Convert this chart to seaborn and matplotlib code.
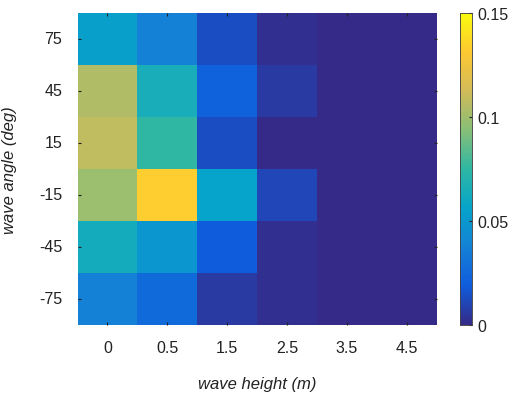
import numpy as np
import pandas as pd
import seaborn as sns
import matplotlib.pyplot as plt
from matplotlib.colors import LinearSegmentedColormap

# data
heights = ['0', '0.5', '1.5', '2.5', '3.5', '4.5']
angles = ['75', '45', '15', '-15', '-45', '-75']
row_75 = [0.054, 0.038, 0.013, 0.002, 0.0, 0.0]
row_45 = [0.104, 0.065, 0.022, 0.006, 0.0, 0.0]
row_15 = [0.108, 0.075, 0.013, 0.0, 0.0, 0.0]
row_m15 = [0.099, 0.133, 0.056, 0.011, 0.0, 0.0]
row_m45 = [0.063, 0.049, 0.019, 0.002, 0.0, 0.0]
row_m75 = [0.037, 0.026, 0.006, 0.002, 0.0, 0.0]

df = pd.DataFrame([row_75, row_45, row_15, row_m15, row_m45, row_m75],
                  index=angles, columns=heights)

# parula-like colormap
parula = LinearSegmentedColormap.from_list('parula', [
    '#352A87', '#0F5CDD', '#1481D6', '#06A4CA', '#2EB7A4',
    '#87BF77', '#D1BB59', '#FEC832', '#F9FB0E'])

plt.rcParams['font.family'] = ['Liberation Sans', 'DejaVu Sans']

fig = plt.figure(figsize=(5.14, 4.02), dpi=100)
ax = fig.add_axes([77.5/514, 1-326/402, (436.5-77.5)/514, (326-14)/402])
cax = fig.add_axes([460/514, 1-326/402, 11.5/514, (326-14)/402])

sns.heatmap(df, cmap=parula, vmin=0, vmax=0.15, ax=ax, cbar_ax=cax,
            cbar_kws={'ticks': [0, 0.05, 0.1, 0.15]})

ax.set_xlabel('wave height (m)', fontsize=12, style='italic', color='#222222', labelpad=15)
ax.set_ylabel('wave angle (deg)', fontsize=12, style='italic', color='#222222', labelpad=16)
ax.tick_params(axis='both', labelsize=11.5, colors='#222222', length=2, direction='in',
               top=True, right=True, pad=11)
ax.tick_params(axis='y', labelrotation=0)
ax.tick_params(axis='x', labelrotation=0)

cax.set_yticklabels(['0', '0.05', '0.1', '0.15'])
cax.tick_params(labelsize=11.5, colors='#222222', length=2, direction='in', pad=4)
for s in cax.spines.values():
    s.set_visible(True)
    s.set_linewidth(0.5)
    s.set_color('#444444')

plt.savefig('out.png', dpi=100)
